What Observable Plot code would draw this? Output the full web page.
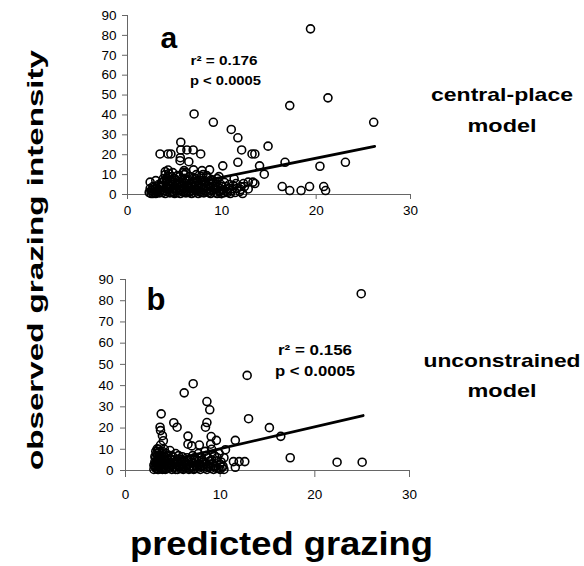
<!DOCTYPE html>
<html>
<head>
<meta charset="utf-8">
<script src="https://cdn.jsdelivr.net/npm/d3@7"></script>
<script src="https://cdn.jsdelivr.net/npm/@observablehq/plot@0.6"></script>
<style>
  html, body { margin: 0; padding: 0; background: #fff; }
  #root { position: relative; width: 584px; height: 566px; overflow: hidden; font-family: "Liberation Sans", Arial, sans-serif; }
  .panel { position: absolute; left: 0; }
  #overlay { position: absolute; left: 0; top: 0; pointer-events: none; }
</style>
</head>
<body>
<div id="root">
  <div class="panel" id="panelA" style="top:0px"></div>
  <div class="panel" id="panelB" style="top:250px"></div>
  <svg id="overlay" width="584" height="566"></svg>
</div>
<script>
// ---------- data ----------
const xTicks = [0, 10, 20, 30];
const yTicks = [0, 10, 20, 30, 40, 50, 60, 70, 80, 90];

// (a) central-place model: [predicted, observed]
const centralPlaceOutliers = [
  [19.4,83.3],[21.25,48.6],[17.2,44.7],[26.1,36.3],[7.06,40.5],[9.1,36.3],[11.0,32.7],[11.7,28.5],
  [14.9,24.3],[5.65,26.3],[5.65,22.4],[6.3,22.4],[6.96,22.4],[12.1,22.4],[3.45,20.4],[4.3,20.4],
  [4.6,20.4],[7.76,20.4],[13.2,20.4],[13.5,20.4],[5.57,17],[5.6,18.5],[6.5,16.5],[11.7,16.2],
  [16.7,16.2],[23.1,16.2],[20.4,14.2],[14.0,14.4],[10.1,14.4],[14.5,10.2],[16.4,4],[17.2,2],
  [18.4,2],[19.3,4],[20.8,4],[21.0,2],[12.8,2.8],[12.3,5.5],[13.5,5.5],[7.9,12],[8.7,12.4],
  [7.0,12.4],[6.0,12],[6.2,11],[4.0,11.5],[4.3,12.3],[2.4,6.2],[11.3,7.9],[12.8,6.2],[13.3,6.2],
  [12.0,4],[12.4,4]
];
const centralPlaceCluster = [
  [2.3,1],[2.4,3],[2.5,0.5],[2.6,2],[2.7,4],[2.8,1],[2.9,2.5],[3.0,0.5],[3.1,3],[3.2,1.5],[3.3,5],
  [3.4,0.8],[3.5,2],[3.6,6],[3.6,3.5],[3.7,1],[3.8,8],[3.8,4.5],[3.9,2],[4.0,10],[4.0,0.5],[4.1,6.5],
  [4.1,3],[4.2,1.5],[4.3,9],[4.3,5],[4.4,2.5],[4.5,0.8],[4.5,7],[4.6,4],[4.7,1.5],[4.8,11],[4.8,6],
  [4.9,3],[5.0,0.5],[5.0,8],[5.1,2],[5.2,5],[5.3,1],[5.3,9.5],[5.4,3.5],[5.5,6.5],[5.6,0.5],[5.6,2.5],
  [5.7,4.5],[5.8,8],[5.9,1.5],[6.0,3],[6.0,10],[6.1,5.5],[6.2,0.8],[6.3,2],[6.3,7],[6.4,4],[6.5,1],
  [6.6,9],[6.6,3],[6.7,5.5],[6.8,0.5],[6.9,2],[7.0,6.5],[7.0,3.5],[7.1,1],[7.2,8],[7.3,4.5],[7.4,2],
  [7.5,0.5],[7.5,6],[7.6,3],[7.7,1.5],[7.8,9],[7.9,5],[8.0,2.5],[8.1,0.8],[8.2,7],[8.3,4],[8.4,1.5],
  [8.5,8.5],[8.6,3],[8.7,5.5],[8.8,0.5],[8.9,2],[9.0,7],[9.1,4],[9.2,1],[9.3,2.8],[9.4,6],[9.5,0.5],
  [9.6,3.5],[9.8,1.5],[9.9,5],[10.1,2.5],[10.2,0.8],[10.4,4],[10.5,1.5],[10.7,3],[10.9,0.5],[11.0,2],
  [11.2,4.5],[11.4,1],[11.6,3],[11.9,1.5],[12.2,0.5],
  [2.5,2],[2.7,0.5],[2.9,4],[3.1,1],[3.3,2.5],[3.5,4],[3.7,6],[3.9,7],[4.0,2],[4.2,8],[4.4,4],[4.6,6],
  [4.7,9],[4.9,1],[5.1,7],[5.2,3],[5.4,5.5],[5.5,9],[5.7,2],[5.8,6],[6.0,1],[6.1,8],[6.3,4.5],[6.5,7],
  [6.6,1.5],[6.8,4],[6.9,8],[7.1,5.5],[7.2,2],[7.4,7],[7.6,4.5],[7.8,1],[7.9,7],[8.1,3.5],[8.3,6],
  [8.4,9.5],[8.6,1],[8.8,4],[8.9,7.5],[9.1,2.5],[9.3,5],[9.5,8],[9.7,2],[9.9,0.5],[10.0,4],[10.3,6],
  [10.6,1],[10.8,5],[11.1,3],[11.5,5.5],[12.0,2.5],[3.0,7],[4.4,10.5],[5.9,11],[7.3,10],[8.0,10],[9.7,9]
];
const centralPlaceFit = [[2.3,1.3],[26.2,24.2]];

// (b) unconstrained model: [predicted, observed]
const unconstrainedOutliers = [
  [24.9,83.3],[12.85,44.8],[7.15,40.9],[6.2,36.6],[8.6,32.5],[8.9,28.6],[13.0,24.4],[3.77,26.7],
  [5.1,22.5],[5.45,20.4],[8.6,22.6],[8.45,20.4],[15.2,20.2],[16.4,16.1],[17.4,6.0],[22.35,3.9],
  [25.0,3.9],[3.65,20.4],[3.7,18.8],[3.9,16.4],[4.0,14],[6.6,16.2],[9.05,16],[9.6,14.2],[11.6,14.2],
  [6.6,12.4],[7.0,11.6],[7.8,12],[9.0,12.4],[3.35,10.2],[4.7,9.4],[10.56,9.8],[10.4,6],[11.4,4.2],
  [12.0,4.2],[12.6,4.2],[10.3,2],[11.6,1.5]
];
const unconstrainedCluster = [
  [3.0,0.5],[3.1,2],[3.1,4],[3.2,1],[3.2,6],[3.3,3],[3.3,8],[3.4,0.5],[3.4,5],[3.5,2],[3.5,10],
  [3.6,7],[3.6,3.5],[3.7,1],[3.7,12],[3.8,5.5],[3.8,2.5],[3.9,0.5],[3.9,9],[4.0,4],[4.1,1.5],[4.1,6.5],
  [4.2,3],[4.3,0.8],[4.3,8],[4.4,2],[4.5,5],[4.6,1],[4.7,3.5],[4.8,7],[4.9,0.5],[5.0,2.5],[5.1,5],
  [5.2,1.5],[5.3,8],[5.4,3.5],[5.5,0.5],[5.6,2],[5.7,5.5],[5.8,1],[5.9,3],[6.0,6.5],[6.1,0.5],[6.2,2],
  [6.3,4],[6.4,1],[6.5,6],[6.6,3],[6.7,0.5],[6.8,2],[6.9,5],[7.0,1.5],[7.1,7],[7.2,3.5],[7.3,0.8],
  [7.4,2.5],[7.5,5],[7.6,1],[7.7,8],[7.8,3],[7.9,0.5],[8.0,6],[8.1,2],[8.2,4],[8.3,1],[8.4,9],[8.5,3],
  [8.6,0.5],[8.7,6],[8.8,2],[8.9,4.5],[9.0,1],[9.1,10],[9.2,3],[9.3,0.5],[9.4,7],[9.5,2],[9.6,4.5],
  [9.8,1],[9.9,8],[10.0,3],[10.2,1.5],[10.4,0.5],
  [3.0,2.5],[3.1,6.5],[3.2,3.5],[3.3,1],[3.4,7],[3.5,0.5],[3.5,5],[3.6,1.5],[3.7,4],[3.8,8],[3.9,3],
  [4.0,1],[4.0,6],[4.2,5],[4.2,0.5],[4.4,7],[4.5,3],[4.6,1.5],[4.7,5.5],[4.9,2.5],[5.0,6.5],[5.2,4],
  [5.3,0.5],[5.5,3],[5.6,7],[5.8,2],[5.9,5],[6.0,1],[6.2,4.5],[6.4,2.5],[6.6,5],[6.8,1],[7.0,4],
  [7.2,0.5],[7.3,6],[7.5,2],[7.7,4.5],[7.9,2],[8.1,5],[8.3,3],[8.5,7],[8.7,1.5],[8.9,3],[9.1,5],
  [9.3,2],[9.6,1],[9.7,6],[10.0,0.5],[10.1,4],[3.6,9],[3.2,9],[4.1,10]
];
const unconstrainedFit = [[3.0,3.0],[25.1,25.9]];

// ---------- drawing ----------
function panel(points, fit, o) {
  return Plot.plot({
    width: 584,
    height: o.height,
    marginLeft: o.left,
    marginRight: 584 - o.right,
    marginTop: o.top,
    marginBottom: o.height - o.bottom,
    x: {domain: [0, 30]},
    y: {domain: [0, 90]},
    style: {fontFamily: '"Liberation Sans", Arial, sans-serif', fontSize: "13.5px", color: "#000", background: "transparent", overflow: "visible"},
    marks: [
      Plot.ruleY([0], {stroke: "#666", strokeWidth: 1}),
      Plot.ruleX([0], {stroke: "#666", strokeWidth: 1}),
      Plot.axisX({ticks: xTicks, tickSize: o.xTickSize, tickPadding: o.xTickPadding, label: null, stroke: "#666", tickFormat: d3.format("d")}),
      Plot.axisY({ticks: yTicks, tickSize: 5, tickPadding: o.yTickPadding, label: null, stroke: "#666", tickFormat: d3.format("d")}),
      Plot.dot(points, {x: d => d[0], y: d => d[1], r: 4, stroke: "#000", strokeWidth: 1.6, fill: "none"}),
      Plot.line(fit, {x: d => d[0], y: d => d[1], stroke: "#000", strokeWidth: 2.8})
    ]
  });
}

document.getElementById("panelA").appendChild(
  panel(centralPlaceOutliers.concat(centralPlaceCluster), centralPlaceFit,
    {height: 230, left: 127, right: 410, top: 15, bottom: 194, xTickSize: 5, xTickPadding: 6, yTickPadding: 6}));
document.getElementById("panelB").appendChild(
  panel(unconstrainedOutliers.concat(unconstrainedCluster), unconstrainedFit,
    {height: 260, left: 125, right: 409, top: 29, bottom: 220, xTickSize: 7, xTickPadding: 12, yTickPadding: 7}));

// ---------- titles & annotations ----------
const svg = d3.select("#overlay");
const F = '"Liberation Sans", Arial, sans-serif';
function txt(x, y, s, size, opts = {}) {
  const t = svg.append("text")
    .attr("x", x).attr("y", y)
    .attr("font-family", F).attr("font-weight", "bold")
    .attr("font-size", size)
    .attr("text-anchor", opts.anchor || "middle")
    .attr("fill", "#000")
    .text(s);
  if (opts.len) t.attr("textLength", opts.len).attr("lengthAdjust", "spacingAndGlyphs");
  if (opts.rotate) t.attr("transform", `rotate(${opts.rotate},${x},${y})`);
  return t;
}
txt(43, 260, "observed grazing intensity", 22.5, {rotate: -90, len: 420});
txt(281.5, 555, "predicted grazing", 34, {len: 303});
txt(502, 101, "central-place", 19, {len: 142});
txt(502, 132, "model", 19, {len: 69});
txt(502, 367, "unconstrained", 19, {len: 157});
txt(502, 397, "model", 19, {len: 69});
txt(160.5, 48, "a", 30, {anchor: "start"});
txt(146.5, 310, "b", 31, {anchor: "start"});
txt(224, 65, "r² = 0.176", 13.5, {len: 67});
txt(225.5, 85, "p < 0.0005", 13.5, {len: 71});
txt(315, 355, "r² = 0.156", 15, {len: 74});
txt(315, 376, "p < 0.0005", 15, {len: 80});
</script>
</body>
</html>
